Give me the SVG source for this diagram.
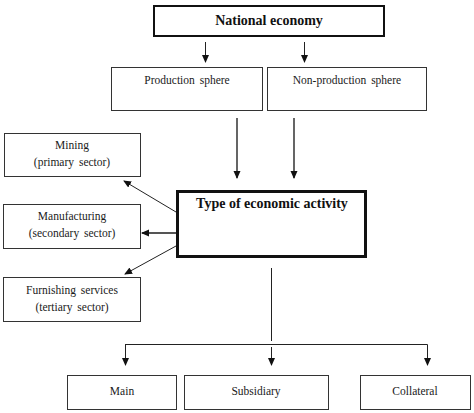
<svg xmlns="http://www.w3.org/2000/svg" width="474" height="413" viewBox="0 0 474 413">
<style>
.box{fill:#fff;stroke:#333;stroke-width:1}
.thick{fill:#fff;stroke:#111;stroke-width:2}
.thicker{fill:#fff;stroke:#111;stroke-width:3}
.t{font-size:11.5px;word-spacing:2px;fill:#1a1a1a;text-anchor:middle}
.h{font-size:14px;font-weight:bold;fill:#111;text-anchor:middle}
.c{fill:none;stroke:#222;stroke-width:1}
.g{fill:none;stroke:#555;stroke-width:1.8}
</style>
<defs>
<marker id="ah" markerWidth="8" markerHeight="8" refX="7" refY="4" orient="auto" markerUnits="userSpaceOnUse">
<path d="M0,0.5 L8,4 L0,7.5 Z" fill="#111"/>
</marker>
</defs>
<rect width="474" height="413" fill="#fff"/>
<g font-family="Liberation Serif">
<g id="national">
<rect class="thick" x="154" y="6" width="230" height="30"/>
<text class="h" x="269" y="25">National  economy</text>
</g>
<g id="production">
<rect class="box" x="111.5" y="67.5" width="151" height="43"/>
<text class="t" x="187" y="84">Production  sphere</text>
</g>
<g id="nonproduction">
<rect class="box" x="267.5" y="67.5" width="159" height="43"/>
<text class="t" x="347" y="84">Non-production  sphere</text>
</g>
<g id="type">
<rect class="thicker" x="177.5" y="191.5" width="188" height="65"/>
<text class="h" x="272" y="208">Type of economic activity</text>
</g>
<g id="mining">
<rect class="box" x="4.5" y="133.5" width="136" height="43"/>
<text class="t" x="72" y="149">Mining</text>
<text class="t" x="72" y="166">(primary  sector)</text>
</g>
<g id="manufacturing">
<rect class="box" x="3.5" y="204.5" width="137" height="44"/>
<text class="t" x="72" y="220">Manufacturing</text>
<text class="t" x="72" y="237">(secondary  sector)</text>
</g>
<g id="furnishing">
<rect class="box" x="3.5" y="277.5" width="137" height="44"/>
<text class="t" x="72" y="294">Furnishing  services</text>
<text class="t" x="72" y="311">(tertiary  sector)</text>
</g>
<g id="main">
<rect class="box" x="67.5" y="375.5" width="109" height="34"/>
<text class="t" x="122" y="395">Main</text>
</g>
<g id="subsidiary">
<rect class="box" x="184.5" y="375.5" width="144" height="34"/>
<text class="t" x="256" y="395">Subsidiary</text>
</g>
<g id="collateral">
<rect class="box" x="360.5" y="375.5" width="110" height="34"/>
<text class="t" x="415" y="395">Collateral</text>
</g>
</g>
<g id="connectors">
<line class="c" x1="205.5" y1="42" x2="205.5" y2="62" marker-end="url(#ah)"/>
<line class="c" x1="304.5" y1="42" x2="304.5" y2="62" marker-end="url(#ah)"/>
<line class="g" x1="237" y1="118" x2="237" y2="178" marker-end="url(#ah)"/>
<line class="g" x1="294" y1="118" x2="294" y2="178" marker-end="url(#ah)"/>
<line class="c" x1="176" y1="212" x2="124" y2="181" marker-end="url(#ah)"/>
<line class="g" x1="176" y1="233" x2="142" y2="233" marker-end="url(#ah)"/>
<line class="c" x1="176" y1="246" x2="125" y2="274" marker-end="url(#ah)"/>
<line class="c" x1="271.5" y1="268" x2="271.5" y2="341"/>
<line class="c" x1="271.5" y1="347" x2="271.5" y2="365" marker-end="url(#ah)"/>
<polyline class="c" points="125.5,350 125.5,344.5 427.5,344.5 427.5,365" marker-end="url(#ah)"/>
<line class="c" x1="125.5" y1="344" x2="125.5" y2="365" marker-end="url(#ah)"/>
</g>
</svg>
